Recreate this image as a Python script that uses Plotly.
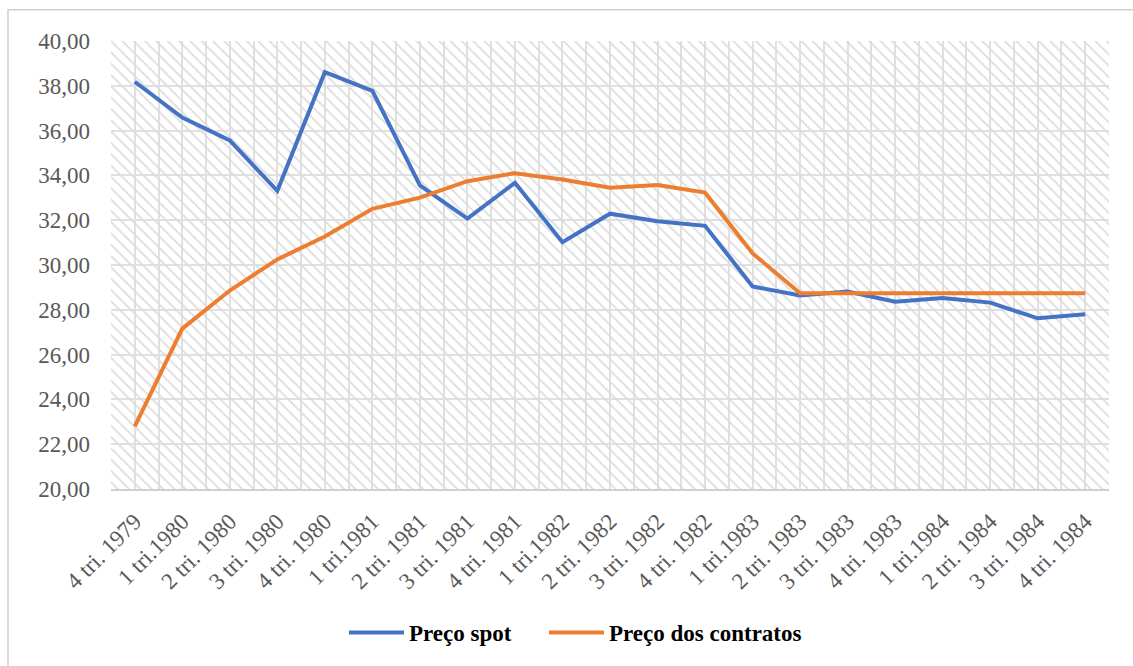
import plotly.graph_objects as go

categories = ["4 tri. 1979", "1 tri.1980", "2 tri. 1980", "3 tri. 1980", "4 tri. 1980",
              "1 tri.1981", "2 tri. 1981", "3 tri. 1981", "4 tri. 1981",
              "1 tri.1982", "2 tri. 1982", "3 tri. 1982", "4 tri. 1982",
              "1 tri.1983", "2 tri. 1983", "3 tri. 1983", "4 tri. 1983",
              "1 tri.1984", "2 tri. 1984", "3 tri. 1984", "4 tri. 1984"]
spot = [38.18, 36.58, 35.56, 33.31, 38.61, 37.77, 33.55, 32.07, 33.67, 31.02, 32.29,
        31.95, 31.75, 29.04, 28.64, 28.82, 28.36, 28.53, 28.32, 27.62, 27.80]
contratos = [22.80, 27.16, 28.86, 30.25, 31.27, 32.51, 33.01, 33.74, 34.10, 33.82, 33.45,
             33.57, 33.23, 30.52, 28.74, 28.74, 28.74, 28.74, 28.74, 28.74, 28.74]
y_ticks = [20, 22, 24, 26, 28, 30, 32, 34, 36, 38, 40]

ymin, ymax = y_ticks[0], y_ticks[-1]
n = len(categories)
xs = list(range(n))

W, H = 1133, 666
ml, mr, mt, mb = 111, 24, 41, 166
SERIF = "Liberation Serif, Times New Roman, serif"

fig = go.Figure()

# hatched plot background
fig.add_trace(go.Bar(
    x=xs, y=[ymax - ymin] * n, base=[ymin] * n, width=1,
    marker=dict(color="rgba(0,0,0,0)", line=dict(width=0),
                pattern=dict(shape="\\", fillmode="replace", fgcolor="#dcdcdc",
                             bgcolor="rgba(0,0,0,0)", size=8, solidity=0.22)),
    showlegend=False, hoverinfo="skip"))

fig.add_trace(go.Scatter(x=xs, y=spot, mode="lines", name="Preço spot",
                         line=dict(color="#4472C4", width=4), legend="legend"))
fig.add_trace(go.Scatter(x=xs, y=contratos, mode="lines", name="Preço dos contratos",
                         line=dict(color="#ED7D31", width=4), legend="legend2"))

pw = W - ml - mr
ph = H - mt - mb

def px2paper_x(px):
    return (px - ml) / pw

def px2paper_y(py):
    return (H - mb - py) / ph

fig.add_shape(type="rect", xref="paper", yref="paper",
              x0=px2paper_x(8), x1=px2paper_x(1160), y0=px2paper_y(700), y1=px2paper_y(9),
              line=dict(color="#d0d0d0", width=1.5), fillcolor="rgba(0,0,0,0)", layer="below")

grid_c = "#e0e0e0"
legend_font = dict(family=SERIF, size=23, color="#000000", weight="bold")
fig.update_layout(
    width=W, height=H,
    margin=dict(l=ml, r=mr, t=mt, b=mb, pad=0),
    paper_bgcolor="white", plot_bgcolor="white",
    separators=",.",
    font=dict(family=SERIF, color="#595959", size=23),
    barmode="overlay", bargap=0,
    xaxis=dict(range=[-0.5, n - 0.5], tickmode="array", tickvals=xs, ticktext=categories,
               tickangle=-45, showgrid=True, gridcolor=grid_c, gridwidth=1.5,
               minor=dict(tickmode="array", tickvals=[i - 0.5 for i in range(n + 1)],
                          showgrid=True, gridcolor=grid_c, gridwidth=1.5),
               showline=True, linecolor="#d0d0d0", linewidth=2, zeroline=False,
               ticks="", ticklabelstandoff=8,
               tickfont=dict(family=SERIF, size=23, color="#595959"), fixedrange=True),
    yaxis=dict(range=[ymin, ymax], tickmode="array", tickvals=y_ticks, tickformat=".2f",
               showgrid=True, gridcolor=grid_c, gridwidth=1.5, zeroline=False,
               showline=False, ticks="", ticklabelstandoff=20,
               tickfont=dict(family=SERIF, size=23, color="#595959"), fixedrange=True),
    legend=dict(orientation="h", x=px2paper_x(344), xanchor="left",
                y=px2paper_y(647), yanchor="middle", font=legend_font,
                itemwidth=55, bgcolor="rgba(0,0,0,0)"),
    legend2=dict(orientation="h", x=px2paper_x(544), xanchor="left",
                 y=px2paper_y(647), yanchor="middle", font=legend_font,
                 itemwidth=55, bgcolor="rgba(0,0,0,0)"),
    showlegend=True,
)

fig.write_html("out.html")
